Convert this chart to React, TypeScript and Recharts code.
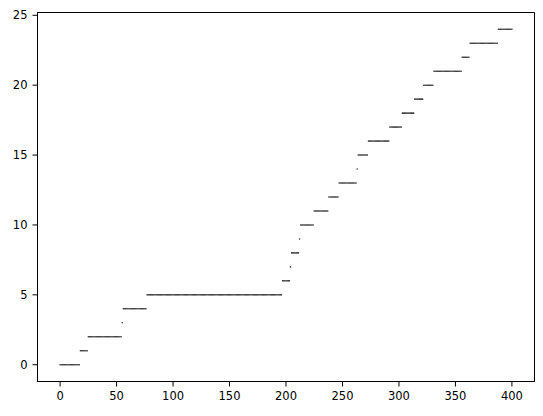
import React from 'react'
import { ScatterChart, Scatter, XAxis, YAxis, ReferenceArea } from 'recharts'

// each level of the staircase and the first x where it appears
const levels = [0, 1, 2, 3, 4, 5, 6, 7, 8, 9, 10, 11, 12, 13, 14, 15, 16, 17, 18, 19, 20, 21, 22, 23, 24]
const levelStarts = [0, 18, 25, 55, 56, 77, 197, 204, 205, 212, 213, 225, 238, 247, 263, 264, 273, 292, 303, 314, 322, 331, 356, 363, 388]
const lastX = 400

const xTicks = [0, 50, 100, 150, 200, 250, 300, 350, 400]
const yTicks = [0, 5, 10, 15, 20, 25]
const xDomain: [number, number] = [-20, 420]
const yDomain: [number, number] = [-1.2, 25.2]

// one sample at every integer x, holding the level of its run
const points: { x: number; y: number }[] = []
levels.forEach((lvl, i) => {
  const end = i + 1 < levelStarts.length ? levelStarts[i + 1] - 1 : lastX
  for (let x = levelStarts[i]; x <= end; x++) points.push({ x, y: lvl })
})

const tickStyle = { fill: '#000', fontSize: 11.5, fontFamily: 'DejaVu Sans' }

const Dot = (props: any) => <circle cx={props.cx} cy={props.cy} r={0.8} fill="#333" />

export default function App() {
  return (
    <div style={{ position: 'absolute', left: 0, top: 0, background: '#fff' }}>
      <ScatterChart
        width={543}
        height={416}
        margin={{ top: 12.5, right: 8.5, bottom: 4.5, left: 0 }}
      >
        <XAxis
          type="number"
          dataKey="x"
          domain={xDomain}
          ticks={xTicks}
          height={30}
          stroke="#000"
          tick={tickStyle}
          tickSize={5}
          tickMargin={5}
          allowDataOverflow
        />
        <YAxis
          type="number"
          dataKey="y"
          domain={yDomain}
          ticks={yTicks}
          width={37.5}
          stroke="#000"
          tick={tickStyle}
          tickSize={5}
          tickMargin={5}
          allowDataOverflow
        />
        <ReferenceArea
          x1={xDomain[0]}
          x2={xDomain[1]}
          y1={yDomain[0]}
          y2={yDomain[1]}
          fill="none"
          stroke="#000"
          strokeWidth={1}
        />
        <Scatter data={points} shape={Dot} isAnimationActive={false} />
      </ScatterChart>
    </div>
  )
}
